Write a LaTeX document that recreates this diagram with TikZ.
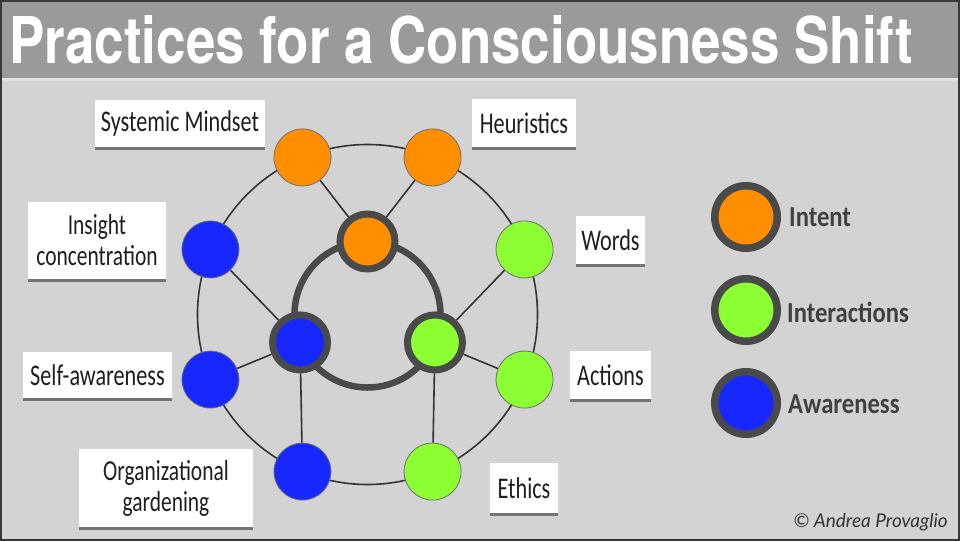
\documentclass[tikz,border=0pt]{standalone}
\usepackage{fontspec}
\setmainfont{Carlito}
\newfontfamily\handfont[FakeStretch=0.74]{Carlito}
\newfontfamily\legfont[FakeStretch=0.85]{Carlito}
\newfontfamily\titlefont{TeX Gyre Heros}
\newfontfamily\copyfont{Lato}
\usetikzlibrary{shadows,calc}
\definecolor{bgC}{HTML}{D3D3D3}
\definecolor{barC}{HTML}{9A9A9A}
\definecolor{frameC}{HTML}{383838}
\definecolor{orangeC}{HTML}{FF8F00}
\definecolor{greenC}{HTML}{8CFF32}
\definecolor{blueC}{HTML}{1628FF}
\definecolor{ringC}{HTML}{4A4A4A}
\definecolor{lineC}{HTML}{333333}
\definecolor{textC}{HTML}{1E1E1E}
\definecolor{legC}{HTML}{404040}
\tikzset{
  thinline/.style={draw=lineC, line width=1.6pt},
  outn/.style={circle, draw=ringC!80, line width=0.8pt, minimum size=57pt, inner sep=0pt},
  innn/.style={circle, draw=ringC, line width=7pt, minimum size=55pt, inner sep=0pt},
  legn/.style={circle, draw=ringC, line width=7.5pt, minimum size=62.5pt, inner sep=0pt},
  lbl/.style={fill=white, inner sep=0pt, align=center, text=textC,
    font=\handfont\fontsize{30}{27}\selectfont,
    drop shadow={shadow xshift=0pt, shadow yshift=-2.5pt, opacity=0.45, fill=black}},
  lbltwo/.style={lbl, font=\handfont\fontsize{29}{31}\selectfont},
  legtext/.style={anchor=west, inner sep=0pt, text=legC, font=\legfont\bfseries\fontsize{29}{29}\selectfont},
}
\begin{document}
\begin{tikzpicture}[x=1pt,y=-1pt]
\useasboundingbox (0,0) rectangle (960,541);
% background
\fill[bgC] (0,0) rectangle (960,541);
\fill[barC] (0,2) rectangle (960,78);
\fill[white!35!bgC] (0,78) rectangle (960,81);
\draw[frameC, line width=2pt] (1,1) rectangle (959,540);
% title
\node[anchor=base west, inner sep=0pt, text=white] (title) at (9,63)
  {\resizebox{904pt}{48pt}{\titlefont\bfseries Practices for a Consciousness Shift}};
% center
\coordinate (C) at (367.5,314.5);
\draw[thinline] (C) circle[radius=170];
\draw[ringC, line width=6.5pt] (C) circle[radius=73];
% outer nodes
\node[outn, fill=orangeC] (heur) at ($(C)+(-67.5:170)$) {};
\node[outn, fill=orangeC] (sysm) at ($(C)+(-112.5:170)$) {};
\node[outn, fill=blueC] (insi) at ($(C)+(-157.5:170)$) {};
\node[outn, fill=blueC] (self) at ($(C)+(157.5:170)$) {};
\node[outn, fill=blueC] (orga) at ($(C)+(112.5:170)$) {};
\node[outn, fill=greenC] (ethi) at ($(C)+(67.5:170)$) {};
\node[outn, fill=greenC] (acti) at ($(C)+(22.5:170)$) {};
\node[outn, fill=greenC] (word) at ($(C)+(-22.5:170)$) {};
% inner nodes
\node[innn, fill=orangeC] (iint) at ($(C)+(-90:73)$) {};
\node[innn, fill=blueC] (iawa) at ($(C)+(157.5:73)$) {};
\node[innn, fill=greenC] (iinter) at ($(C)+(22.5:73)$) {};
% connectors
\draw[thinline] (iint) -- (sysm);
\draw[thinline] (iint) -- (heur);
\draw[thinline] (iawa) -- (insi);
\draw[thinline] (iawa) -- (self);
\draw[thinline] (iawa) -- (orga);
\draw[thinline] (iinter) -- (word);
\draw[thinline] (iinter) -- (acti);
\draw[thinline] (iinter) -- (ethi);
% labels
\node[lbl, minimum width=170pt, minimum height=47pt] (lsys) at (180,123.5) {Systemic Mindset};
\node[lbl, minimum width=104pt, minimum height=48pt] (lheu) at (524,123) {Heuristics};
\node[lbltwo, minimum width=138pt, minimum height=77pt] (lins) at (97,240.5) {Insight\\concentration};
\node[lbl, minimum width=69pt, minimum height=48pt] (lwor) at (610.5,240) {Words};
\node[lbl, minimum width=149pt, minimum height=46pt] (lsel) at (97.5,375) {Self-awareness};
\node[lbl, minimum width=81pt, minimum height=48pt] (lact) at (610.5,375) {Actions};
\node[lbltwo, minimum width=174pt, minimum height=78pt] (lorg) at (166,488) {Organizational\\gardening};
\node[lbl, minimum width=68pt, minimum height=50pt] (leth) at (524,488) {Ethics};
% legend
\node[legn, fill=orangeC] (gint) at (746,217) {};
\node[legn, fill=greenC] (ginter) at (746,310) {};
\node[legn, fill=blueC] (gawa) at (746,403) {};
\node[legtext] (tint) at (789,217) {Intent};
\node[legtext] (tinter) at (787,312) {Interactions};
\node[legtext] (tawa) at (788,404) {Awareness};
% copyright
\node[anchor=base east, inner sep=0pt, text=lineC, font=\copyfont\itshape\fontsize{19}{19}\selectfont] (copy) at (948,527) {© Andrea Provaglio};
\end{tikzpicture}
\end{document}
